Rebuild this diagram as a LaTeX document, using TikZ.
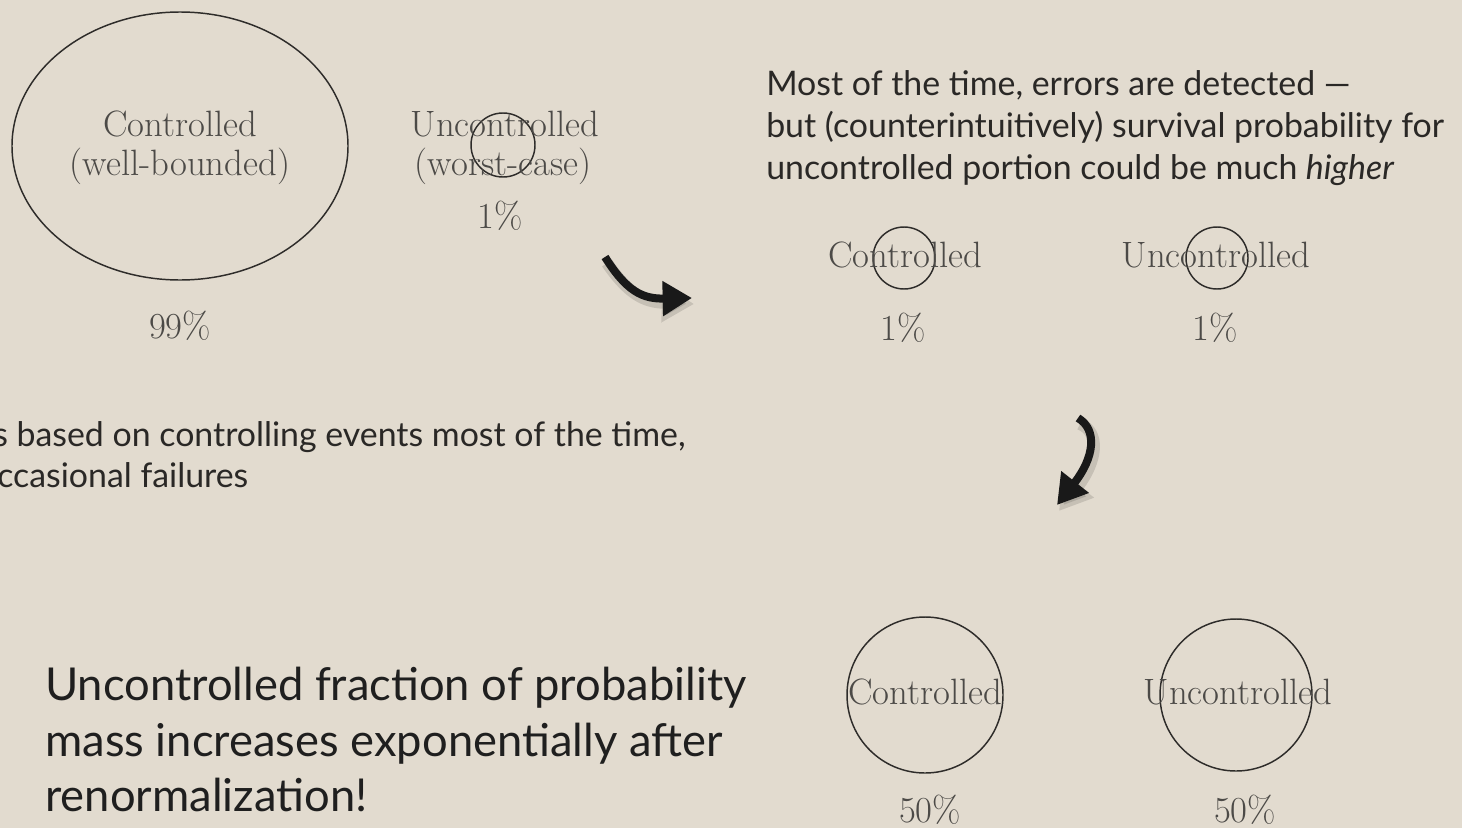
\documentclass[tikz,border=0pt]{standalone}
\usepackage{fontspec}
\newfontfamily\gill{Lato}
\usetikzlibrary{arrows.meta,shapes.geometric}
\definecolor{bg}{HTML}{E2DBCF}
\definecolor{serifgray}{HTML}{4C4A47}
\definecolor{sansdark}{HTML}{2A2826}
\definecolor{ringcol}{HTML}{2E2C2A}
\tikzset{
  sertext/.style={anchor=base, inner sep=0pt, text=serifgray, font=\fontsize{27.5}{31}\selectfont},
  medtext/.style={anchor=base west, inner sep=0pt, text=sansdark, font=\gill\fontsize{25.4}{30}\selectfont},
  bigtext/.style={anchor=base west, inner sep=0pt, text=black!88, font=\gill\fontsize{34}{40}\selectfont},
  ring/.style={draw=ringcol, line width=1.1pt, inner sep=0pt},
  bendarrow/.style={line width=6pt, draw=black!90, -{Triangle[length=22pt,width=25pt]}},
  arrowshadow/.style={line width=9pt, draw=black, opacity=0.12, -{Triangle[length=24pt,width=28pt]}}
}
\begin{document}
\begin{tikzpicture}[x=0.75pt,y=-0.75pt]
\useasboundingbox (0,0) rectangle (1462,828);
\fill[bg] (0,0) rectangle (1462,828);
\clip (0,0) rectangle (1462,828);

% --- top-left: controlled / uncontrolled before ---
\node[ring, ellipse, minimum width=336*0.75pt, minimum height=268*0.75pt] (bigell) at (180,146) {};
\node[sertext] (c1a) at (180,136) {Controlled};
\node[sertext] (c1b) at (180,175) {(well-bounded)};
\node[sertext] (p99) at (180,338) {99\%};

\node[ring, circle, minimum size=64*0.75pt] (smallc) at (503,145) {};
\node[sertext] (u1a) at (505,136) {Uncontrolled};
\node[sertext] (u1b) at (503,175) {(worst-case)};
\node[sertext] (p1a) at (500,228) {1\%};

% arrow 1
\coordinate (a1s) at (605,257);
\coordinate (a1e) at (692,298);
\draw[arrowshadow] (a1s) ++(2,6) .. controls (629,295) and (645,302) .. ([shift={(2,6)}]a1e);
\draw[bendarrow] (a1s) .. controls (627,292) and (643,299) .. (a1e);

% --- top-right text ---
\node[medtext] (t1) at (766,95) {Most of the time, errors are detected —};
\node[medtext] (t2) at (766,137) {but (counterintuitively) survival probability for};
\node[medtext] (t3) at (766,179) {uncontrolled portion could be much \textit{higher}};

% --- middle row ---
\node[ring, circle, minimum size=62*0.75pt] (midc) at (904,258) {};
\node[sertext] (c2) at (905,267) {Controlled};
\node[sertext] (p1b) at (903,340) {1\%};

\node[ring, circle, minimum size=62*0.75pt] (midu) at (1217,258) {};
\node[sertext] (u2) at (1216,267) {Uncontrolled};
\node[sertext] (p1c) at (1215,340) {1\%};

% arrow 2
\coordinate (a2s) at (1078,418);
\coordinate (a2e) at (1057,505);
\draw[arrowshadow] (a2s) ++(2,6) .. controls (1100,432) and (1098,460) .. ([shift={(2,6)}]a2e);
\draw[bendarrow] (a2s) .. controls (1098,430) and (1094,458) .. (a2e);

% --- left partial text ---
\node[medtext] (l1) at (-7,446) {s based on controlling events most of the time,};
\node[medtext] (l2) at (-3,487) {ccasional failures};

% --- big text ---
\node[bigtext] (b1) at (45,700) {Uncontrolled fraction of probability};
\node[bigtext] (b2) at (45,756) {mass increases exponentially after};
\node[bigtext] (b3) at (45,811) {renormalization!};

% --- bottom row ---
\node[ring, circle, minimum size=156*0.75pt] (botc) at (925,695) {};
\node[sertext] (c3) at (925,704) {Controlled};
\node[sertext] (p50a) at (930,822) {50\%};

\node[ring, circle, minimum size=152*0.75pt] (botu) at (1236,695) {};
\node[sertext] (u3) at (1238,704) {Uncontrolled};
\node[sertext] (p50b) at (1245,822) {50\%};
\end{tikzpicture}
\end{document}
